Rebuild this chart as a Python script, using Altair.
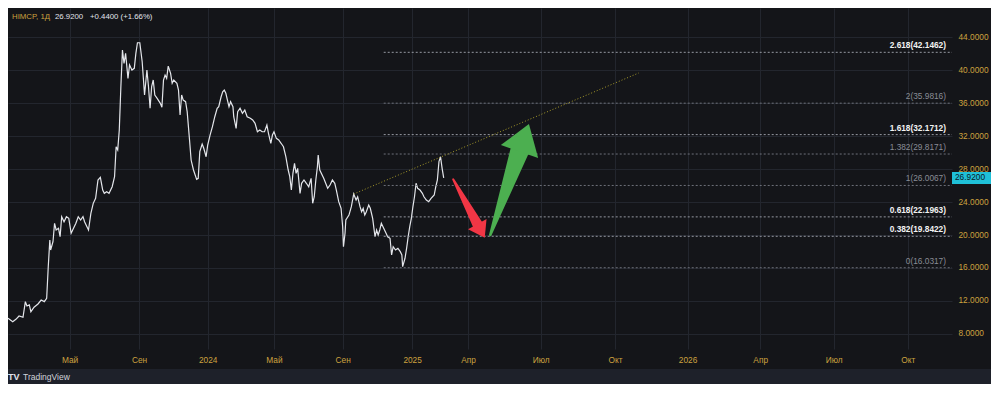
import altair as alt
import pandas as pd

# ---------------- data ----------------
# x is the bar index (one bar = one trading day), y is the price
bars = [
    0, 6, 10, 14, 19, 22, 24, 27, 29, 33,
    38, 42, 46, 49, 51, 53, 54, 57, 59, 61,
    64, 66, 68, 71, 74, 77, 80, 83, 86, 89,
    92, 95, 97, 102, 105, 108, 111, 114, 117, 120,
    122, 125, 128, 132, 135, 137, 139, 141, 143, 145,
    147, 149, 152, 154, 157, 160, 162, 164, 167, 170,
    173, 176, 178, 180, 182, 184, 186, 189, 193, 195,
    197, 199, 201, 203, 206, 208, 210, 214, 216, 218,
    220, 222, 225, 227, 230, 232, 235, 239, 241, 243,
    246, 248, 251, 253, 256, 259, 262, 265, 267, 270,
    272, 274, 276, 278, 280, 282, 285, 286, 289, 291,
    294, 297, 300, 303, 307, 310, 313, 316, 319, 322,
    325, 328, 330, 333, 335, 337, 340, 343, 346, 349,
    352, 355, 357, 359, 361, 363, 365, 367, 370, 372,
    375, 378, 381, 384, 386, 388, 390, 392, 393, 395,
    400, 405, 408, 411, 414, 416, 419, 422, 424, 425,
    427, 428, 432, 435, 438, 441, 443, 446, 448, 450,
    452, 454, 457, 459, 462, 465, 467, 469, 471, 473,
    476, 479, 481, 484, 486, 488, 491, 494, 497, 499,
    500, 503, 505, 507, 509, 511, 513, 515, 517, 519,
    522, 525, 527, 530, 533, 536, 540, 542, 544, 546,
    548, 550, 552,
]
prices = [
    9.90, 9.49, 9.78, 10.18, 10.02, 11.92, 11.39, 11.52, 10.70, 11.24,
    11.64, 12.12, 11.92, 12.33, 16.16, 19.39, 18.18, 19.19, 21.42, 20.61,
    20.81, 19.79, 22.22, 21.61, 22.22, 22.02, 20.21, 20.81, 21.42, 22.22,
    21.82, 22.22, 21.61, 20.61, 22.63, 23.84, 24.45, 26.67, 26.99, 25.45,
    25.05, 25.25, 25.05, 25.85, 27.07, 30.70, 30.30, 32.73, 37.98, 42.42,
    40.81, 42.02, 38.99, 40.61, 40.00, 40.21, 42.02, 43.31, 43.31, 41.01,
    36.97, 40.00, 37.98, 35.36, 37.98, 38.79, 36.97, 36.57, 35.96, 35.48,
    38.79, 39.39, 38.99, 40.48, 39.60, 38.39, 38.79, 38.39, 37.58, 34.55,
    36.97, 36.36, 36.16, 34.95, 31.52, 29.09, 27.88, 26.75, 26.87, 30.10,
    31.03, 30.51, 29.49, 30.91, 32.12, 33.13, 34.34, 35.36, 35.55, 36.76,
    37.37, 37.58, 37.18, 36.36, 35.55, 36.16, 35.55, 34.34, 32.93, 34.95,
    35.36, 34.75, 35.15, 34.34, 34.15, 33.94, 33.54, 32.52, 32.73, 32.52,
    32.52, 33.33, 32.33, 31.12, 32.12, 32.52, 31.72, 31.52, 31.12, 30.70,
    29.49, 27.88, 27.07, 25.45, 27.48, 28.69, 27.48, 28.08, 25.05, 26.27,
    26.67, 26.27, 25.85, 26.87, 23.84, 24.64, 26.67, 28.28, 29.70, 27.88,
    26.87, 25.66, 26.06, 26.67, 26.27, 25.45, 24.04, 23.24, 21.01, 18.58,
    20.21, 21.82, 22.42, 23.43, 24.97, 24.24, 24.64, 23.43, 22.82, 23.24,
    22.42, 22.82, 23.64, 23.24, 22.02, 19.79, 20.61, 20.00, 20.61, 21.42,
    20.81, 20.21, 19.79, 19.60, 17.58, 18.58, 18.18, 18.39, 17.98, 17.58,
    16.16, 17.18, 18.39, 19.79, 21.01, 22.02, 23.43, 24.64, 26.27, 25.66,
    25.45, 25.05, 24.64, 24.24, 24.04, 24.45, 24.85, 25.85, 26.67, 28.89,
    29.49, 28.08, 26.92,
]
assert len(bars) == len(prices)

tick_bars = [78, 166, 253, 337, 424, 512, 583, 675, 769, 861, 953, 1046, 1140]
tick_labels = ["Май", "Сен", "2024", "Май", "Сен", "2025", "Апр", "Июл", "Окт",
               "2026", "Апр", "Июл", "Окт"]
y_ticks = [8, 12, 16, 20, 24, 28, 32, 36, 40, 44]
x_domain = [0, 1196]
y_domain = [6.18, 47.52]

fib_ratios = ["0", "0.382", "0.618", "1", "1.382", "1.618", "2", "2.618"]
fib_prices = [16.0317, 19.8422, 22.1963, 26.0067, 29.8171, 32.1712, 35.9816, 42.1462]
fib_bold = [False, True, True, False, False, True, False, True]
fib_start_bar = 476

trend_bars = [438, 799]
trend_prices = [24.97, 39.64]

red_bars = [564, 604]          # tail, tip
red_prices = [26.75, 19.67]
green_bars = [611, 660]
green_prices = [20.00, 33.45]

last_price = 26.92
header_symbol = "HIMCP, 1Д"
header_price = "26.9200"
header_change = "+0.4400 (+1.66%)"
logo_text = "TradingView"

# ---------------- styling ----------------
BG = "#141519"
OUTER = "#1e212a"
GRID = "#23262e"
GOLD = "#cda23f"
LINE = "#e4e6eb"
RED = "#f23645"
GREEN = "#4caf50"
CYAN = "#1fc0d8"
FONT = "Liberation Sans"
FS = 8.3

xs = alt.Scale(domain=x_domain, nice=False, zero=False)
ys = alt.Scale(domain=y_domain, nice=False, zero=False)

label_expr = "[" + ",".join("'%s'" % l for l in tick_labels) + "][indexof([" + \
    ",".join(str(b) for b in tick_bars) + "], datum.value)]"

x_axis = alt.Axis(values=tick_bars, labelExpr=label_expr, grid=True, gridColor=GRID,
                  domain=False, ticks=False, labelColor=GOLD,
                  labelFont=FONT, labelFontSize=FS, labelPadding=6,
                  labelFontWeight={"condition": {"test": "length(datum.label) == 4",
                                                 "value": "bold"}, "value": "normal"},
                  title=None)
y_axis = alt.Axis(orient="right", values=y_ticks, format=".4f", grid=True, gridColor=GRID,
                  domain=False, ticks=False, labelColor=GOLD,
                  labelFont=FONT, labelFontSize=FS, labelPadding=6,
                  title=None)


def X(field):
    return alt.X(field, scale=xs, axis=x_axis)


def Y(field):
    return alt.Y(field, scale=ys, axis=y_axis)


one = pd.DataFrame({"a": [0]})

# price series
price_df = pd.DataFrame({"bar": bars, "price": prices})
price_line = alt.Chart(price_df).mark_line(color=LINE, strokeWidth=1.2).encode(
    x=X("bar:Q"), y=Y("price:Q"))

# fibonacci levels
fib_df = pd.DataFrame({
    "x0": [fib_start_bar] * len(fib_prices),
    "x1": [x_domain[1]] * len(fib_prices),
    "price": fib_prices,
    "label": ["%s(%.4f)" % (r, p) for r, p in zip(fib_ratios, fib_prices)],
    "bold": fib_bold,
})
fib_df["lc"] = ["#9598a1" if b else "#6e717a" for b in fib_bold]

fib_rules = alt.Chart(fib_df).mark_rule(strokeDash=[2, 2], strokeWidth=1).encode(
    x=X("x0:Q"), x2="x1:Q", y=Y("price:Q"),
    color=alt.Color("lc:N", scale=None),
)
fib_text_b = alt.Chart(fib_df[fib_df["bold"]]).mark_text(
    align="right", baseline="alphabetic", dx=-6, dy=-4, font=FONT, fontSize=FS,
    fontWeight="bold", color="#f2f2f2").encode(
    x=X("x1:Q"), y=Y("price:Q"), text="label:N")
fib_text_n = alt.Chart(fib_df[~fib_df["bold"]]).mark_text(
    align="right", baseline="alphabetic", dx=-6, dy=-4, font=FONT, fontSize=FS,
    fontWeight="normal", color="#8a8d96").encode(
    x=X("x1:Q"), y=Y("price:Q"), text="label:N")

# trend line
trend_df = pd.DataFrame({"bar": trend_bars, "price": trend_prices})
trend = alt.Chart(trend_df).mark_line(color="#a69a2a", strokeWidth=1, strokeDash=[1, 2]).encode(
    x=X("bar:Q"), y=Y("price:Q"))

# arrows: tapered shaft (trail) + head (custom symbol whose tip is at the origin)
HEAD = "M0,0L0.68,1L-0.68,1Z"


def arrow(bx, py, color, w_tail, w_base, frac, head_size, angle):
    base_bar = bx[0] + frac * (bx[1] - bx[0])
    base_price = py[0] + frac * (py[1] - py[0])
    shaft_df = pd.DataFrame({"bar": [bx[0], base_bar], "price": [py[0], base_price],
                             "w": [w_tail, w_base], "o": [0, 1]})
    shaft = alt.Chart(shaft_df).mark_trail(color=color, opacity=1).encode(
        x=X("bar:Q"), y=Y("price:Q"),
        size=alt.Size("w:Q", scale=None, legend=None),
        order="o:Q",
    )
    tip_df = pd.DataFrame({"bar": [bx[1]], "price": [py[1]]})
    head = alt.Chart(tip_df).mark_point(shape=HEAD, filled=True, opacity=1, color=color,
                                        size=head_size, angle=angle, strokeWidth=0).encode(
        x=X("bar:Q"), y=Y("price:Q"))
    return [shaft, head]


red_arrow = arrow(red_bars, red_prices, RED, 2, 10.5, 0.78, 961, 151.3)
green_arrow = arrow(green_bars, green_prices, GREEN, 2.5, 19, 0.77, 3364, 19)

# last price box on the price scale
lp_df = pd.DataFrame({"price": [last_price], "label": ["%.4f" % last_price]})
lp_box = alt.Chart(lp_df).mark_rect(color=CYAN, yOffset=-6, y2Offset=6).encode(
    x=alt.value(944), x2=alt.value(983), y=Y("price:Q"), y2="price:Q")
lp_text = alt.Chart(lp_df).mark_text(align="left", baseline="middle", font=FONT,
                                     fontSize=FS, color="#0c1a24").encode(
    x=alt.value(947), y=Y("price:Q"), text="label:N")

# bottom strip (outside the pane)
strip = alt.Chart(one).mark_rect(color=OUTER).encode(
    x=alt.value(-10), x2=alt.value(1000), y=alt.value(361), y2=alt.value(400))


def txt(s, x, y, color, weight="normal", size=FS):
    return alt.Chart(one).mark_text(align="left", baseline="middle", font=FONT,
                                    fontSize=size, fontWeight=weight, color=color).encode(
        x=alt.value(x), y=alt.value(y), text=alt.value(s))


h1 = txt(header_symbol, 4, 9, GOLD, size=7.8)
h2 = txt(header_price, 47, 9, "#e0e3eb", size=7.8)
h3 = txt(header_change, 82, 9, "#e0e3eb", size=7.8)
logo_mark = txt("TV", 0, 369, "#e0e3eb", "bold", 9)
logo = txt(logo_text, 15, 369, "#d1d4dc", "normal", 8.5)

chart = alt.layer(
    price_line, fib_rules, fib_text_b, fib_text_n, trend,
    *red_arrow, *green_arrow, lp_box, lp_text, strip, h1, h2, h3, logo_mark, logo,
).properties(
    width=944, height=341,
    autosize=alt.AutoSizeParams(type="none"),
    padding={"left": 0, "top": 0, "right": 39, "bottom": 35},
).configure(
    background=BG, font=FONT,
).configure_view(
    strokeWidth=0, fill=BG,
)

chart.save("out.html", embed_options={"renderer": "svg", "actions": False})
